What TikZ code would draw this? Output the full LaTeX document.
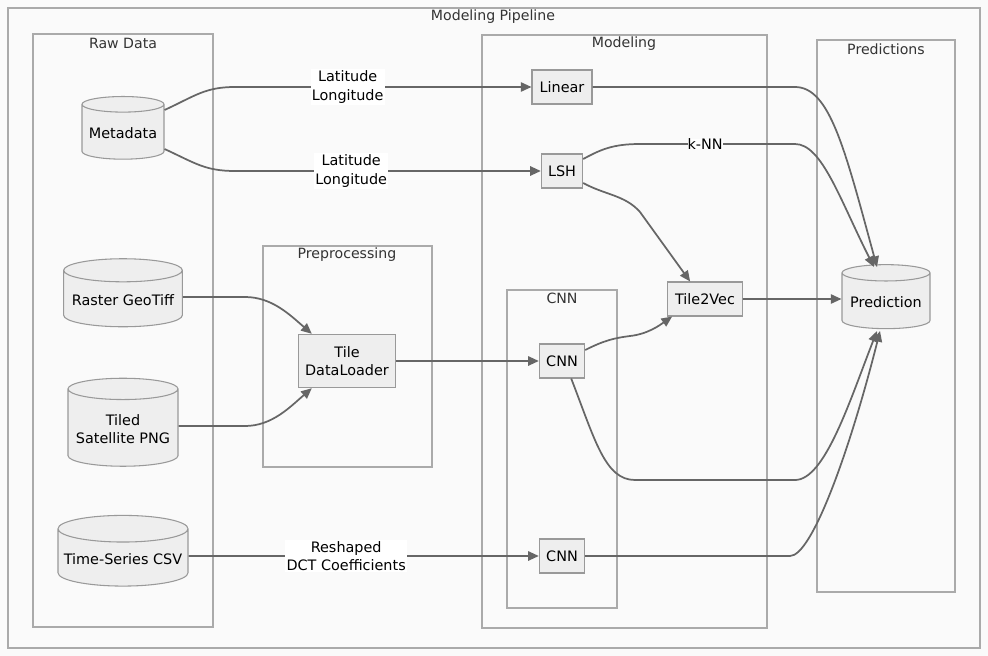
\documentclass[tikz,border=0pt]{standalone}
\usepackage{fontspec}
\setmainfont{DejaVu Sans}
\usetikzlibrary{shapes.geometric,arrows.meta,calc}
\definecolor{bgcol}{HTML}{FAFAFA}
\definecolor{boxline}{HTML}{AAAAAA}
\definecolor{nodeline}{HTML}{999999}
\definecolor{nodefill}{HTML}{EEEEEE}
\definecolor{edgecol}{HTML}{666666}
\definecolor{txtcol}{HTML}{333333}
\tikzset{
  cluster/.style={draw=boxline, fill=bgcol, line width=0.8pt},
  ctitle/.style={text=txtcol, font=\fontsize{10.6}{13}\selectfont},
  proc/.style={rectangle, draw=nodeline, fill=nodefill, line width=0.8pt, text=black,
    minimum height=25.5pt, inner sep=2pt, font=\fontsize{10.8}{14}\selectfont, align=center},
  store/.style={cylinder, shape border rotate=90, aspect=0.22, draw=nodeline, fill=nodefill,
    line width=0.8pt, inner sep=1pt, font=\fontsize{10.8}{14}\selectfont, align=center},
  edge/.style={draw=edgecol, line width=1.3pt, -{Triangle[length=8pt,width=7pt]}},
  lbl/.style={fill=white, inner sep=1pt, text=black, font=\fontsize{10.8}{14}\selectfont, align=center}
}
\begin{document}
\begin{tikzpicture}[x=0.75pt, y=-0.75pt]
  \fill[bgcol] (0,0) rectangle (988,656);
  \useasboundingbox (0,0) rectangle (988,656);
  % subgraphs
  \draw[cluster] (8,8) rectangle (980,648);
  \node[ctitle] (tPipe) at (493,17) {Modeling Pipeline};
  \draw[cluster] (33,34) rectangle (213,627);
  \node[ctitle] (tRaw) at (123,43) {Raw Data};
  \draw[cluster] (263,246) rectangle (432,467);
  \node[ctitle] (tPre) at (347,255) {Preprocessing};
  \draw[cluster] (482,35) rectangle (767,628);
  \node[ctitle] (tMod) at (624,44) {Modeling};
  \draw[cluster] (507,290) rectangle (617,608);
  \node[ctitle] (tCnn) at (562,298) {CNN};
  \draw[cluster] (817,40) rectangle (955,592);
  \node[ctitle] (tPred) at (886,49) {Predictions};
  % data stores
  \node[store, minimum width=61.5pt, minimum height=47pt] (meta) at (123,133) {Metadata};
  \node[store, minimum width=89pt, minimum height=51pt] (raster) at (123,300) {Raster GeoTiff};
  \node[store, minimum width=82.5pt, minimum height=66pt] (tiled) at (123,429) {Tiled\\Satellite PNG};
  \node[store, minimum width=97.5pt, minimum height=53pt] (csv) at (123,559) {Time-Series CSV};
  \node[store, minimum width=66pt, minimum height=48pt] (pred) at (886,302) {Prediction};
  % processes
  \node[proc, minimum width=73pt, minimum height=40pt] (loader) at (347,361) {Tile\\DataLoader};
  \node[proc, minimum width=45pt] (linear) at (562,87) {Linear};
  \node[proc, minimum width=31pt] (lsh) at (562,171) {LSH};
  \node[proc, minimum width=56pt] (tilevec) at (705,299) {Tile2Vec};
  \node[proc, minimum width=34pt] (cnnA) at (562,361) {CNN};
  \node[proc, minimum width=34pt] (cnnB) at (562,556) {CNN};
  % connectors
  \draw[edge] ($(meta.east)+(0,-23)$) .. controls (195,96) and (205,87) .. (235,87)
     -- node[lbl, pos=0.38] {Latitude\\Longitude} (linear.west);
  \draw[edge] ($(meta.east)+(0,16)$) .. controls (195,163) and (205,171) .. (235,171)
     -- node[lbl, pos=0.38] {Latitude\\Longitude} (lsh.west);
  \draw[edge] ($(raster.east)+(0,-3)$) -- (245,297) .. controls (272,297) and (290,315) .. ($(loader.north west)+(14,0)$);
  \draw[edge] ($(tiled.east)+(0,-3)$) -- (245,426) .. controls (272,426) and (290,407) .. ($(loader.south west)+(14,0)$);
  \draw[edge] (loader.east) -- (cnnA.west);
  \draw[edge] ($(csv.east)+(0,-3)$) -- node[lbl, pos=0.45] {Reshaped\\DCT Coefficients} (cnnB.west);
  \draw[edge] (linear.east) -- (795,87) .. controls (830,87) and (845,150) .. ($(pred.center)+(-9,-35)$);
  \draw[edge] ($(lsh.east)+(0,-12)$) .. controls (600,150) and (612,144) .. (640,144)
     -- node[lbl, pos=0.42, inner sep=0pt] {k-NN} (795,144) .. controls (822,144) and (840,200) .. ($(pred.center)+(-12,-35)$);
  \draw[edge] ($(lsh.east)+(0,12)$) .. controls (605,195) and (625,195) .. (640,212)
     -- ($(tilevec.north west)+(23,0)$);
  \draw[edge] ($(cnnA.east)+(0,-11)$) .. controls (605,340) and (615,338) .. (630,336)
     .. controls (648,334) and (660,325) .. ($(tilevec.south west)+(5,0)$);
  \draw[edge] (tilevec.east) -- ($(pred.west)+(0,-3)$);
  \draw[edge] ($(cnnA.south east)+(-14,0)$) .. controls (595,440) and (605,480) .. (635,480)
     -- (795,480) .. controls (825,480) and (850,400) .. ($(pred.center)+(-9,29)$);
  \draw[edge] (cnnB.east) -- (790,556) .. controls (812,556) and (850,450) .. ($(pred.center)+(-6,29)$);
\end{tikzpicture}
\end{document}
